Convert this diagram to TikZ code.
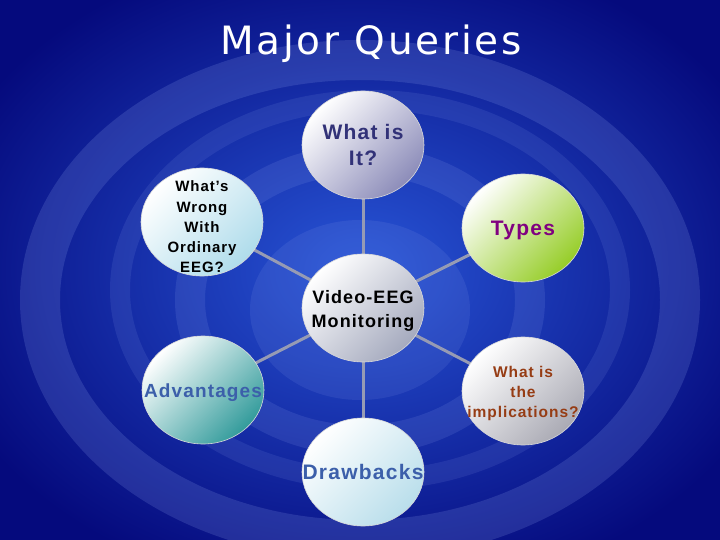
\documentclass[tikz,border=0pt]{standalone}
\usepackage{fontspec}
\setmainfont{Liberation Sans}
\newfontfamily\bubfont[LetterSpace=6]{Liberation Sans}
\newfontfamily\titlefont[LetterSpace=7]{DejaVu Sans}
\usetikzlibrary{shapes.geometric,backgrounds}
\definecolor{bgin}{RGB}{40,85,215}
\definecolor{bgout}{RGB}{5,10,125}
\definecolor{swirl}{RGB}{150,170,240}
\definecolor{link}{RGB}{150,155,180}
\definecolor{tWhat}{RGB}{50,50,120}
\definecolor{tTypes}{RGB}{128,0,128}
\definecolor{tAdv}{RGB}{60,95,170}
\definecolor{tImp}{RGB}{150,60,20}
\definecolor{fWhat}{RGB}{140,140,185}
\definecolor{fWrong}{RGB}{175,220,235}
\definecolor{fTypes}{RGB}{150,205,40}
\definecolor{fAdv}{RGB}{50,155,155}
\definecolor{fImp}{RGB}{170,170,180}
\definecolor{fDraw}{RGB}{185,222,235}
\definecolor{fMid}{RGB}{165,170,190}
\tikzset{
  bubble/.style={ellipse, minimum width=122pt, minimum height=108pt, inner sep=0pt,
    draw=white!85!black, line width=0.6pt},
  tint/.style={top color=white, middle color=white!88!#1, bottom color=#1, shading angle=45},
  btext/.style 2 args={align=center, inner sep=0pt, font=\bubfont\bfseries\fontsize{#1}{#2}\selectfont},
  linkline/.style={draw=link, line width=3pt},
  ring/.style={draw=swirl, opacity=0.18}
}
\begin{document}
\begin{tikzpicture}[x=1pt,y=-1pt]
\useasboundingbox (0,0) rectangle (720,540);
\node[bubble, tint=fMid] (c) at (363,308) {};
\node[bubble, tint=fWhat] (w) at (363,145) {};
\node[bubble, tint=fWrong] (o) at (202,222) {};
\node[bubble, tint=fTypes] (t) at (523,228) {};
\node[bubble, tint=fAdv] (a) at (203,390) {};
\node[bubble, tint=fImp] (i) at (523,391) {};
\node[bubble, tint=fDraw] (d) at (363,472) {};
\node[btext={18}{24}, yshift=-3pt] (ct) at (c) {Video-EEG\\Monitoring};
\node[btext={21}{26}, text=tWhat] (wt) at (w) {What is\\It?};
\node[btext={15}{20.2}, yshift=-5pt] (ot) at (o) {What’s\\Wrong\\With\\Ordinary\\EEG?};
\node[btext={21}{26}, text=tTypes, yshift=-2pt] (tt) at (t) {Types};
\node[btext={19}{24}, text=tAdv, yshift=-3pt] (at) at (a) {Advantages};
\node[btext={15.5}{20}, text=tImp, yshift=-2pt] (it) at (i) {What is\\the\\implications?};
\node[btext={21}{26}, text=tAdv] (dt) at (d) {Drawbacks};
\node[text=white, font=\titlefont\fontsize{39}{40}\selectfont] (title) at (371,44) {Major Queries};
\begin{scope}[on background layer]
  \shade[inner color=bgin, outer color=bgout] (-80,-60) rectangle (800,600);
  \draw[ring, line width=40pt] (360,300) ellipse (320 and 240);
  \draw[ring, line width=20pt, opacity=0.12] (370,290) ellipse (250 and 190);
  \draw[ring, line width=30pt, opacity=0.14] (360,300) ellipse (170 and 140);
  \fill[swirl, opacity=0.12] (360,310) ellipse (110 and 90);
  \foreach \n in {w,o,t,a,i,d} \draw[linkline] (c.center) -- (\n.center);
\end{scope}
\end{tikzpicture}
\end{document}
